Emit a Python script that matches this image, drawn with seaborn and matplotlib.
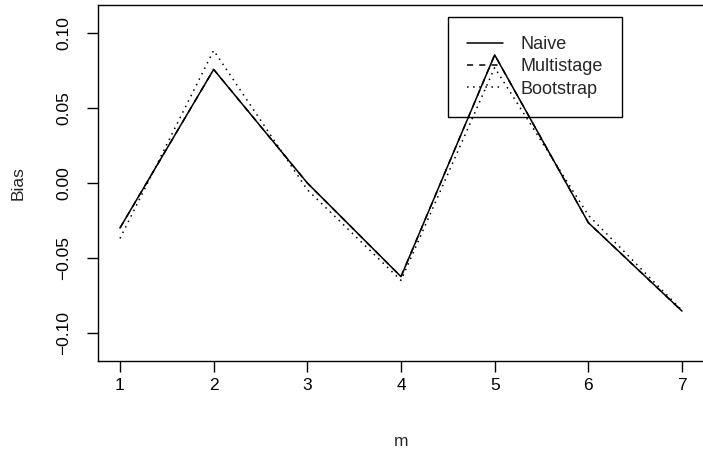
import matplotlib
matplotlib.use("Agg")
import matplotlib.pyplot as plt
import seaborn as sns
import pandas as pd

m = [1, 2, 3, 4, 5, 6, 7]
naive = [-0.030, 0.0758, 0.000, -0.0625, 0.0855, -0.0265, -0.0855]
multistage = [-0.030, 0.0758, 0.000, -0.0625, 0.0855, -0.0265, -0.0855]
bootstrap = [-0.037, 0.0885, -0.0045, -0.0650, 0.0770, -0.0215, -0.0850]
series = ["Naive", "Multistage", "Bootstrap"]

df = pd.concat([
    pd.DataFrame({"m": m, "Bias": vals, "method": name})
    for name, vals in zip(series, [naive, multistage, bootstrap])
])

sns.set_theme(style="white")
plt.rcParams["font.family"] = ["Liberation Sans", "DejaVu Sans"]
plt.rcParams["font.size"] = 12.5

fig = plt.figure(figsize=(7.03, 4.59), dpi=100)
ax = fig.add_axes([97.5 / 703, 98 / 459, 607 / 703, 356 / 459])

styles = {"Naive": "-", "Multistage": (0, (4, 4)), "Bootstrap": (0, (1, 3))}
for name in series:
    sub = df[df["method"] == name]
    sns.lineplot(data=sub, x="m", y="Bias", ax=ax, color="black",
                 linewidth=1.1, linestyle=styles[name], label=name,
                 estimator=None, sort=False)

ax.set_xlim(0.76, 7.24)
ax.set_ylim(-0.1188, 0.1188)
ax.set_xticks(m)
ax.set_xticklabels([str(v) for v in m])
yt = [-0.10, -0.05, 0.00, 0.05, 0.10]
ax.set_yticks(yt)
ax.set_yticklabels(["\u22120.10", "\u22120.05", "0.00", "0.05", "0.10"],
                   rotation=90, va="center")
for s in ax.spines.values():
    s.set_color("black")
    s.set_linewidth(1.0)
ax.tick_params(axis="both", which="both", direction="out", length=8,
               width=1.0, color="black", labelsize=12.5, labelcolor="black",
               bottom=True, left=True)
ax.tick_params(axis="x", pad=4)
ax.tick_params(axis="y", pad=11)
ax.set_xlabel("m", fontsize=12.5, labelpad=30)
ax.set_ylabel("Bias", fontsize=12.5, labelpad=22)

leg = ax.legend(loc="upper left", frameon=True, fancybox=False,
                facecolor="none", framealpha=1, edgecolor="black",
                fontsize=13, handlelength=2.0, handletextpad=0.95,
                borderpad=1.05, labelspacing=0.3, borderaxespad=0)
leg.get_frame().set_linewidth(1.0)
leg.set_bbox_to_anchor((448 / 703, 1 - 17 / 459), transform=fig.transFigure)

fig.savefig("out.png", dpi=100)
